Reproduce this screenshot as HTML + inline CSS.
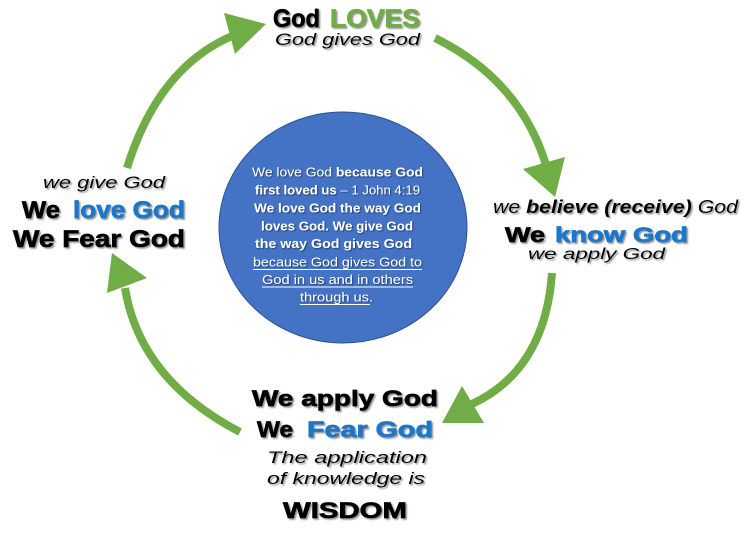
<!DOCTYPE html>
<html>
<head>
<meta charset="utf-8">
<style>
  html, body { margin:0; padding:0; background:#ffffff; }
  body { width:755px; height:560px; overflow:hidden; }
  svg { display:block; }
  .b { font-family:"Liberation Sans", sans-serif; font-weight:bold; stroke-width:0.7px; paint-order:stroke; }
  .s { font-family:"Liberation Sans", sans-serif; font-style:italic; }
  .c { font-family:"Liberation Sans", sans-serif; fill:#ffffff; font-size:13px; }
</style>
</head>
<body>
<svg width="755" height="560" viewBox="0 0 755 560" xmlns="http://www.w3.org/2000/svg">
  <defs>
    <filter id="sh" x="-10%" y="-30%" width="120%" height="160%">
      <feDropShadow dx="1.5" dy="1.5" stdDeviation="0.8" flood-color="#7a7a7a" flood-opacity="0.8"/>
    </filter>
    <filter id="shw" x="-10%" y="-30%" width="120%" height="160%">
      <feDropShadow dx="1" dy="1" stdDeviation="0.6" flood-color="#1f3a6b" flood-opacity="0.9"/>
    </filter>
  </defs>
  <rect width="755" height="560" fill="#ffffff"/>

  <!-- arrows -->
  <g fill="none" stroke="#70AD47" stroke-width="8">
    <path d="M127,168 Q158,68 232,36"/>
    <path d="M435,38 Q520,80 546,165"/>
    <path d="M552,273 Q545,370 472,404"/>
    <path d="M240,432 Q140,380 125,288"/>
  </g>
  <g fill="#70AD47">
    <polygon points="224,13 266,24 235,54"/>
    <polygon points="523,169 565,157 555,197"/>
    <polygon points="462,386 484,423 442,423"/>
    <polygon points="112,253 147,278 107,293"/>
  </g>

  <!-- center ellipse -->
  <ellipse cx="343" cy="227.5" rx="124" ry="115.5" fill="#4472C4" stroke="#2F528F" stroke-width="1"/>

  <g filter="url(#shw)">
    <text class="c" x="252" y="176.5" textLength="171" lengthAdjust="spacingAndGlyphs">We love God <tspan font-weight="bold">because God</tspan></text>
    <text class="c" x="255" y="194.5" textLength="165" lengthAdjust="spacingAndGlyphs"><tspan font-weight="bold">first loved us</tspan> – 1 John 4:19</text>
    <text class="c" x="254" y="212.5" font-weight="bold" textLength="167" lengthAdjust="spacingAndGlyphs">We love God the way God</text>
    <text class="c" x="261" y="230.5" font-weight="bold" textLength="152" lengthAdjust="spacingAndGlyphs">loves God. We give God</text>
    <text class="c" x="255" y="248" font-weight="bold" textLength="157" lengthAdjust="spacingAndGlyphs">the way God gives God</text>
    <text class="c" x="253" y="266.5" textLength="169" lengthAdjust="spacingAndGlyphs">because God gives God to</text>
    <text class="c" x="262" y="284" textLength="151" lengthAdjust="spacingAndGlyphs">God in us and in others</text>
    <text class="c" x="300" y="301.5" textLength="73" lengthAdjust="spacingAndGlyphs">through us.</text>
  </g>
  <g stroke="#ffffff" stroke-width="1">
    <line x1="253" y1="269.5" x2="422" y2="269.5"/>
    <line x1="262" y1="287" x2="413" y2="287"/>
    <line x1="300" y1="304.5" x2="370" y2="304.5"/>
  </g>

  <g filter="url(#sh)">
    <!-- top -->
    <text class="b" x="273" y="27" font-size="25" fill="#000" stroke="#000" textLength="47" lengthAdjust="spacingAndGlyphs">God</text>
    <text class="b" x="330" y="27" font-size="25" fill="#70AD47" stroke="#70AD47" textLength="90" lengthAdjust="spacingAndGlyphs">LOVES</text>
    <text class="s" x="275" y="45" font-size="17" fill="#000" textLength="145" lengthAdjust="spacingAndGlyphs">God gives God</text>

    <!-- left -->
    <text class="s" x="43" y="188" font-size="17" fill="#000" textLength="122" lengthAdjust="spacingAndGlyphs">we give God</text>
    <text class="b" x="22" y="218" font-size="24" fill="#000" stroke="#000" textLength="38" lengthAdjust="spacingAndGlyphs">We</text>
    <text class="b" x="73" y="218" font-size="24" fill="#1F77C8" stroke="#1F77C8" textLength="112" lengthAdjust="spacingAndGlyphs">love God</text>
    <text class="b" x="13" y="247" font-size="24" fill="#000" stroke="#000" textLength="172" lengthAdjust="spacingAndGlyphs">We Fear God</text>

    <!-- right -->
    <text class="s" x="493" y="213" font-size="18" fill="#000" textLength="245" lengthAdjust="spacingAndGlyphs">we <tspan font-weight="bold">believe (receive)</tspan> God</text>
    <text class="b" x="505" y="242" font-size="21" fill="#000" stroke="#000" textLength="40" lengthAdjust="spacingAndGlyphs">We</text>
    <text class="b" x="555" y="242" font-size="21" fill="#1F77C8" stroke="#1F77C8" textLength="133" lengthAdjust="spacingAndGlyphs">know God</text>
    <text class="s" x="528" y="259" font-size="16" fill="#000" textLength="137" lengthAdjust="spacingAndGlyphs">we apply God</text>

    <!-- bottom -->
    <text class="b" x="252" y="406" font-size="22" fill="#000" stroke="#000" textLength="186" lengthAdjust="spacingAndGlyphs">We apply God</text>
    <text class="b" x="257" y="437" font-size="22" fill="#000" stroke="#000" textLength="36" lengthAdjust="spacingAndGlyphs">We</text>
    <text class="b" x="307" y="437" font-size="22" fill="#1F77C8" stroke="#1F77C8" textLength="126" lengthAdjust="spacingAndGlyphs">Fear God</text>
    <text class="s" x="267" y="463" font-size="17" fill="#000" textLength="160" lengthAdjust="spacingAndGlyphs">The application</text>
    <text class="s" x="267" y="484" font-size="17" fill="#000" textLength="158" lengthAdjust="spacingAndGlyphs">of knowledge is</text>
    <text class="b" x="283" y="518" font-size="22" fill="#000" stroke="#000" textLength="124" lengthAdjust="spacingAndGlyphs">WISDOM</text>
  </g>
</svg>
</body>
</html>
